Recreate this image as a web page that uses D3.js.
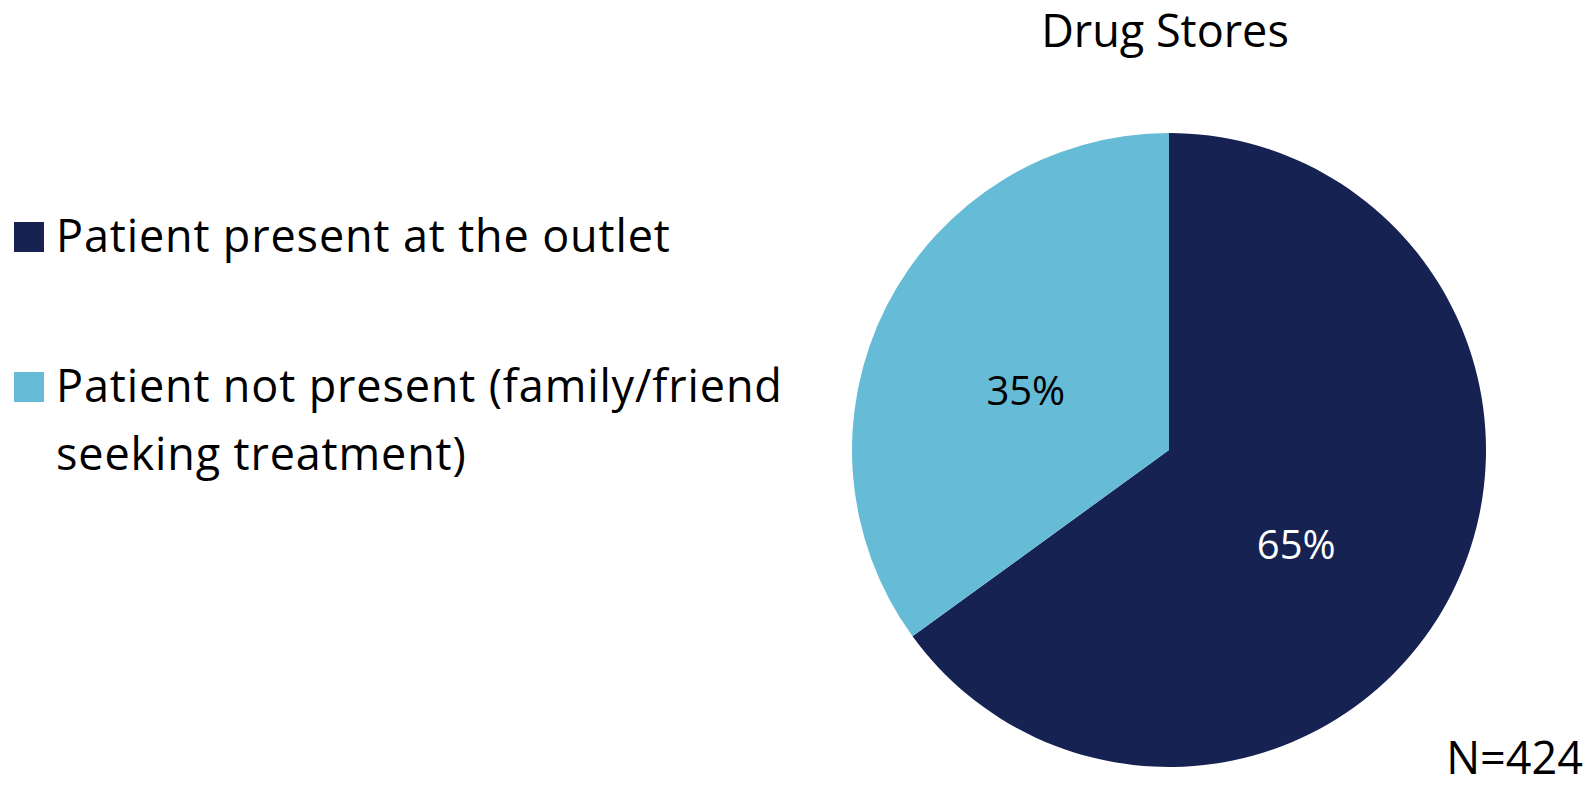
<!DOCTYPE html>
<html>
<head>
<meta charset="utf-8">
<script src="https://cdn.jsdelivr.net/npm/d3@7"></script>
<style>
  html, body { margin: 0; padding: 0; background: #ffffff; }
  svg { display: block; }
  text { font-family: "Open Sans", "Noto Sans", sans-serif; fill: #000000; font-variant-ligatures: none; }
</style>
</head>
<body>
<svg id="chart" width="1596" height="787"></svg>
<script>
// Share of drug-store visits by who was present
const categories = ["Patient present at the outlet", "Patient not present (family/friend seeking treatment)"];
const legendLines = [["Patient present at the outlet"], ["Patient not present (family/friend", "seeking treatment)"]];
const values = [65, 35];
const colors = ["#152252", "#66bbd7"];
const labelColors = ["#ffffff", "#000000"];
const title = "Drug Stores";
const sampleNote = "N=424";

const svg = d3.select("#chart");
const cx = 1169, cy = 450, radius = 317;

const pie = d3.pie().sort(null).value(d => d.value);
const arcs = pie(categories.map((c, i) => ({ name: c, value: values[i], color: colors[i], labelColor: labelColors[i] })));

const arc = d3.arc().innerRadius(0).outerRadius(radius);
const labelArc = d3.arc().innerRadius(radius * 0.5).outerRadius(radius * 0.5);

const g = svg.append("g").attr("transform", `translate(${cx},${cy})`);

g.selectAll("path.slice")
  .data(arcs)
  .join("path")
  .attr("class", "slice")
  .attr("d", arc)
  .attr("fill", d => d.data.color);

// Percentage labels placed around each slice centroid, then nudged to sit like office chart labels
const nudges = [[-14, 37], [-2, 27]];
g.selectAll("text.pct")
  .data(arcs)
  .join("text")
  .attr("class", "pct")
  .attr("x", (d, i) => labelArc.centroid(d)[0] + nudges[i][0])
  .attr("y", (d, i) => labelArc.centroid(d)[1] + nudges[i][1])
  .attr("text-anchor", "middle")
  .style("font-size", "40px")
  .style("fill", d => d.data.labelColor)
  .text(d => d3.format(".0f")(d.data.value) + "%");

// Title
svg.append("text")
  .attr("x", 1165)
  .attr("y", 47)
  .attr("text-anchor", "middle")
  .style("font-size", "45px")
  .text(title);

// Legend
const legendTops = [222, 372];
const legend = svg.selectAll("g.legend")
  .data(categories)
  .join("g")
  .attr("class", "legend")
  .attr("transform", (d, i) => `translate(14,${legendTops[i]})`);

legend.append("rect")
  .attr("width", 30)
  .attr("height", 30)
  .attr("fill", (d, i) => colors[i]);

legend.append("text")
  .attr("y", 30)
  .style("font-size", "45px")
  .style("letter-spacing", "0.85px")
  .selectAll("tspan")
  .data((d, i) => legendLines[i])
  .join("tspan")
  .attr("x", 42)
  .attr("dy", (d, j) => j === 0 ? 0 : 68)
  .text(d => d);

// Sample size
svg.append("text")
  .attr("x", 1583)
  .attr("y", 774)
  .attr("text-anchor", "end")
  .style("font-size", "45px")
  .text(sampleNote);
</script>
</body>
</html>
